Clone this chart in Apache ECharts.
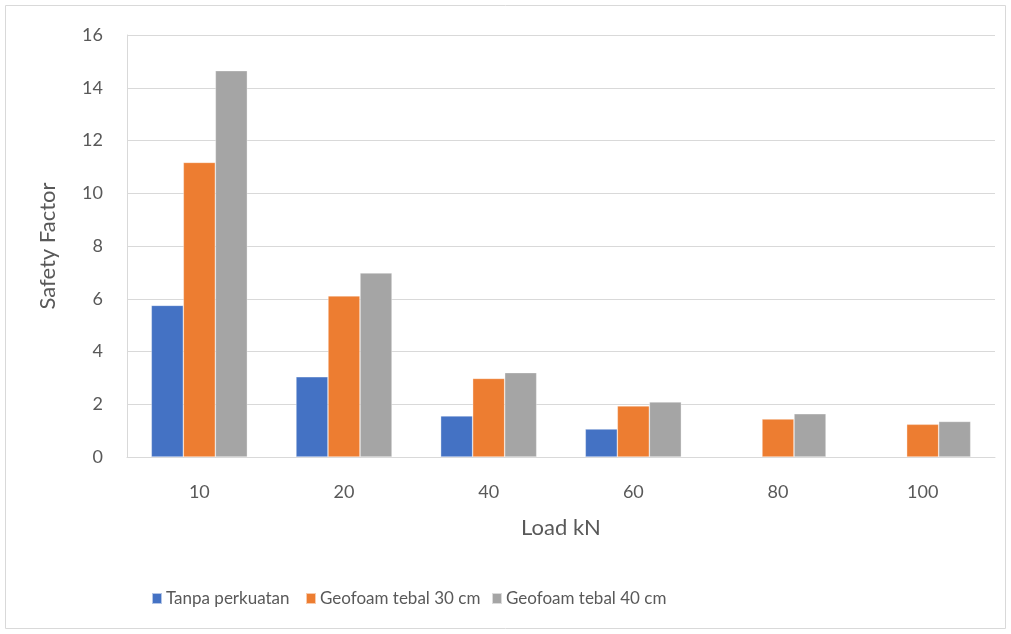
<!DOCTYPE html>
<html>
<head>
<meta charset="utf-8">
<script src="https://cdn.jsdelivr.net/npm/echarts@6/dist/echarts.min.js"></script>
<style>
  html, body { margin: 0; padding: 0; background: #ffffff; }
  #chart { width: 1011px; height: 634px; }
</style>
</head>
<body>
<div id="chart"></div>
<script>
// Load categories (kN) and safety factors for each reinforcement case
const loads = ['10', '20', '40', '60', '80', '100'];
const tanpaPerkuatan = [5.75, 3.04, 1.56, 1.06, null, null];
const geofoam30 = [11.17, 6.11, 2.98, 1.94, 1.44, 1.24];
const geofoam40 = [14.65, 6.98, 3.20, 2.09, 1.64, 1.35];
const seriesNames = ['Tanpa perkuatan', 'Geofoam tebal 30 cm', 'Geofoam tebal 40 cm'];
const colors = ['#4472c4', '#ed7d31', '#a5a5a5'];

const FONT = 'Lato, "Open Sans", sans-serif';
const TEXT = '#595959';

const chart = echarts.init(document.getElementById('chart'), null, { renderer: 'canvas' });

function barSeries(name, data, color) {
  return {
    name: name,
    type: 'bar',
    data: data,
    barGap: '0%',
    barCategoryGap: '33.6%',
    itemStyle: { color: color, borderColor: 'rgba(255,255,255,0.6)', borderWidth: 0.6 },
    emphasis: { disabled: true }
  };
}

// one legend block per series so each entry sits at its own x position
const legendLefts = [146, 300, 486];
const legends = seriesNames.map((name, i) => ({
  left: legendLefts[i],
  top: 585,
  itemWidth: 10,
  itemHeight: 11,
  icon: 'rect',
  textStyle: { color: TEXT, fontSize: 17, fontFamily: FONT, padding: [0, 0, 0, -1] },
  data: [name]
}));

chart.setOption({
  animation: false,
  textStyle: { fontFamily: FONT },
  graphic: [{
    type: 'rect',
    shape: { x: 5.5, y: 5.5, width: 1000, height: 623 },
    style: { fill: 'none', stroke: '#d9d9d9', lineWidth: 1 },
    silent: true
  }],
  grid: { left: 127, right: 16, top: 35, bottom: 177 },
  legend: legends,
  xAxis: {
    type: 'category',
    data: loads,
    name: 'Load kN',
    nameLocation: 'middle',
    nameGap: 60,
    nameTextStyle: { color: TEXT, fontSize: 22, fontFamily: FONT },
    axisLine: { lineStyle: { color: '#d9d9d9', width: 1 } },
    axisTick: { show: false },
    axisLabel: { color: TEXT, fontSize: 18, margin: 26, fontFamily: FONT }
  },
  yAxis: {
    type: 'value',
    min: 0,
    max: 16,
    interval: 2,
    name: 'Safety Factor',
    nameLocation: 'middle',
    nameGap: 68,
    nameTextStyle: { color: TEXT, fontSize: 22, fontFamily: FONT },
    axisLine: { show: true, lineStyle: { color: '#d9d9d9', width: 1 } },
    axisTick: { show: false },
    splitLine: { lineStyle: { color: '#d9d9d9', width: 1 } },
    axisLabel: { color: TEXT, fontSize: 18, margin: 24, fontFamily: FONT }
  },
  series: [
    barSeries(seriesNames[0], tanpaPerkuatan, colors[0]),
    barSeries(seriesNames[1], geofoam30, colors[1]),
    barSeries(seriesNames[2], geofoam40, colors[2])
  ]
});
</script>
</body>
</html>
